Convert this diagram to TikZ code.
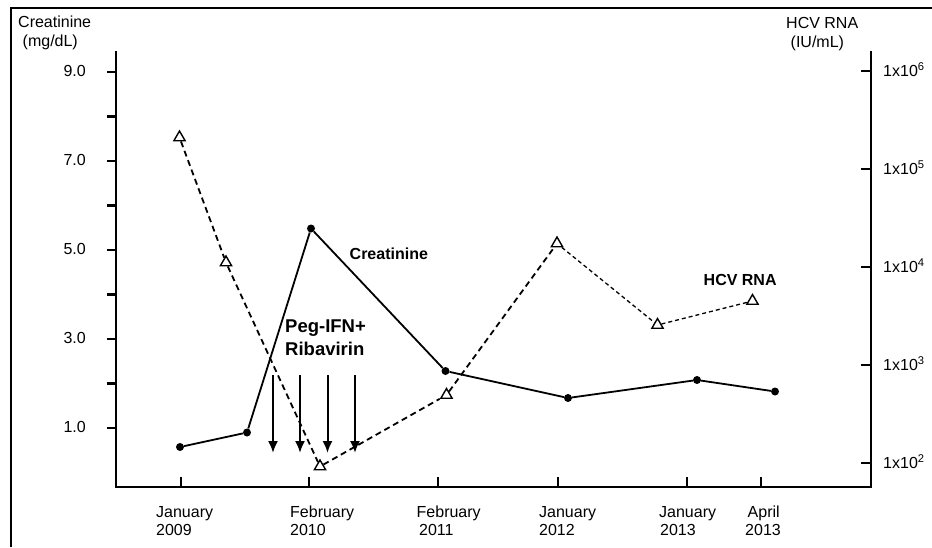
\documentclass[tikz,border=0pt]{standalone}
\usepackage{fontspec}
\setmainfont{Liberation Sans}
\usetikzlibrary{arrows.meta,shapes.geometric}
\begin{document}
\begin{tikzpicture}[x=1pt,y=-1pt,
  lbl/.style={font=\fontsize{16}{19}\selectfont, inner sep=0pt},
  blbl/.style={font=\fontsize{16}{19}\selectfont\bfseries, inner sep=0pt},
  big/.style={font=\fontsize{18.5}{22}\selectfont\bfseries, inner sep=0pt},
  axisline/.style={line width=2.2pt},
  frameline/.style={line width=2.4pt},
  dot/.style={circle, fill=black, inner sep=0pt, minimum size=8pt},
  tri/.style={regular polygon, regular polygon sides=3, draw, fill=white, line width=1.4pt, inner sep=0pt, minimum size=13pt},
  creat/.style={line width=1.8pt},
  hcvthick/.style={line width=1.8pt, dash pattern=on 6pt off 4pt},
  hcvthin/.style={line width=1.3pt, dash pattern=on 4pt off 3pt},
  treat/.style={line width=2pt, -{Latex[length=12pt,width=10pt]}}]
\useasboundingbox (0,0) rectangle (932,547);
% outer frame (cropped)
\coordinate (fbl) at (11,547);
\coordinate (ftl) at (11,8);
\coordinate (ftr) at (932,8);
\draw[frameline] (fbl) -- (ftl) -- (ftr);
% axes
\coordinate (ltop) at (116,51);
\coordinate (orig) at (116,487);
\coordinate (rbot) at (871,487);
\coordinate (rtop) at (871,51);
\draw[axisline] (ltop) -- (orig) -- (rbot) -- (rtop);
% left ticks
\foreach \v in {1,...,9} {
  \draw[axisline] (107,{428-(\v-1)*44.5}) -- (116,{428-(\v-1)*44.5});
}
\foreach \v/\t in {9/9.0,7/7.0,5/5.0,3/3.0,1/1.0} {
  \node[lbl, anchor=east] (yl\v) at (86,{428-(\v-1)*44.5-1}) {\t};
}
% right ticks
\foreach \k in {2,...,6} {
  \draw[axisline] (861,{463.3-(\k-2)*98}) -- (871,{463.3-(\k-2)*98});
  \node[lbl, anchor=base west] (yr\k) at (883,{463.3-(\k-2)*98+5.5}) {1x10\textsuperscript{\k}};
}
% bottom ticks
\foreach \x in {181,309,438,558,687,761} {
  \draw[axisline] (\x,477) -- (\x,487);
}
% bottom labels
\node[lbl, anchor=base west] (xa1) at (156,517.5) {January};
\node[lbl, anchor=base west] (xb1) at (156,535.5) {2009};
\node[lbl, anchor=base west] (xa2) at (290,517.5) {February};
\node[lbl, anchor=base west] (xb2) at (290,535.5) {2010};
\node[lbl, anchor=base west] (xa3) at (416.5,517.5) {February};
\node[lbl, anchor=base west] (xb3) at (419,535.5) {2011};
\node[lbl, anchor=base west] (xa4) at (539,517.5) {January};
\node[lbl, anchor=base west] (xb4) at (539,535.5) {2012};
\node[lbl, anchor=base west] (xa5) at (659,517.5) {January};
\node[lbl, anchor=base west] (xb5) at (660,535.5) {2013};
\node[lbl, anchor=base west] (xa6) at (747.5,517.5) {April};
\node[lbl, anchor=base west] (xb6) at (745,535.5) {2013};
% axis titles
\node[lbl, anchor=base west] (lt1) at (18,27.8) {Creatinine};
\node[lbl, anchor=base west] (lt2) at (22.5,46.5) {(mg/dL)};
\node[lbl, anchor=base west] (rt1) at (786,28.3) {HCV RNA};
\node[lbl, anchor=base west] (rt2) at (790.5,47) {(IU/mL)};
% creatinine data
\node[dot] (c1) at (180,447) {};
\node[dot] (c2) at (247,432.5) {};
\node[dot] (c3) at (311,228.5) {};
\node[dot] (c4) at (445.5,371) {};
\node[dot] (c5) at (568,398) {};
\node[dot] (c6) at (697,380) {};
\node[dot] (c7) at (775,391.5) {};
\draw[creat] (c1) -- (c2) -- (c3) -- (c4) -- (c5) -- (c6) -- (c7);
% HCV RNA data
\node[tri] (h1) at (179.5,137.5) {};
\node[tri] (h2) at (226,262.5) {};
\node[tri] (h3) at (320,466.5) {};
\node[tri] (h4) at (446.5,395) {};
\node[tri] (h5) at (557,243.5) {};
\node[tri] (h6) at (657.5,325) {};
\node[tri] (h7) at (752.5,301) {};
\draw[hcvthick] (h1) -- (h2) -- (h3) -- (h4) -- (h5);
\draw[hcvthin] (h5) -- (h6) -- (h7);
% treatment arrows
\foreach \i/\x in {1/273,2/300,3/327.5,4/355} {
  \coordinate (as\i) at (\x,375);
  \coordinate (ae\i) at (\x,453);
  \draw[treat] (as\i) -- (ae\i);
}
% series labels
\node[blbl, anchor=base west] (lc) at (349.5,259.5) {Creatinine};
\node[blbl, anchor=base west] (lh) at (703.5,285.5) {HCV RNA};
\node[big, anchor=base west] (lp1) at (285,332.7) {Peg-IFN+};
\node[big, anchor=base west] (lp2) at (285,355) {Ribavirin};
\end{tikzpicture}
\end{document}
